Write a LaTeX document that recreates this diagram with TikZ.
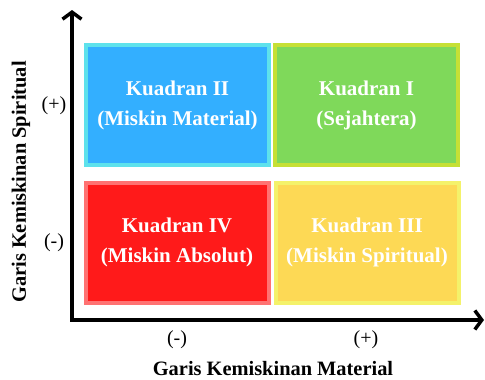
\documentclass[tikz,border=0pt]{standalone}
\usepackage{fontspec}
\setmainfont{Liberation Serif}
\usetikzlibrary{arrows.meta, calc}
\definecolor{kbiru}{HTML}{33AFFF}
\definecolor{kbirutepi}{HTML}{5EE2EC}
\definecolor{khijau}{HTML}{7FD95A}
\definecolor{khijautepi}{HTML}{C6E035}
\definecolor{kmerah}{HTML}{FF1A1A}
\definecolor{kmerahtepi}{HTML}{FF7272}
\definecolor{kkuning}{HTML}{FDD955}
\definecolor{kkuningtepi}{HTML}{F4F26A}
\tikzset{
	kuadran/.style = {draw, line width = 4pt, minimum width = 183pt, minimum height = 120pt,
		text = white, align = center, font = \fontsize{21}{30}\selectfont\bfseries},
	sumbu/.style = {line width = 3.5pt, -{Straight Barb[length = 7pt, width = 19pt]}},
	tanda/.style = {font = \fontsize{20}{22}\selectfont},
	judul/.style = {font = \fontsize{20.4}{22}\selectfont\bfseries}
}
\begin{document}
\begin{tikzpicture}[x = 1pt, y = -1pt]
		\useasboundingbox (0, 0) rectangle (485, 380);
		\coordinate (o) at (72, 320);
		\coordinate (yatas) at (72, 10);
		\coordinate (xkanan) at (484, 320);
		\draw[sumbu, line cap = round] (o) -- (yatas);
		\draw[sumbu] ($(o) + (-1.75, 0)$) -- (xkanan);
		\node[kuadran, draw = kbirutepi, fill = kbiru] (k2) at (177.5, 105) {Kuadran II\\(Miskin Material)};
		\node[kuadran, draw = khijautepi, fill = khijau] (k1) at (366.5, 105) {Kuadran I\\(Sejahtera)};
		\node[kuadran, draw = kmerahtepi, fill = kmerah] (k4) at (177, 242.5) {Kuadran IV\\(Miskin Absolut)};
		\node[kuadran, draw = kkuningtepi, fill = kkuning] (k3) at (367, 242.5) {Kuadran III\\(Miskin Spiritual)};
		\node[tanda] (yplus) at (54, 106) {(+)};
		\node[tanda] (ymin) at (54, 243) {(-)};
		\node[tanda] (xmin) at (177, 340) {(-)};
		\node[tanda] (xplus) at (366, 340) {(+)};
		\node[judul] (xjudul) at (273, 369) {Garis Kemiskinan Material};
		\node[judul, rotate = 90] (yjudul) at (21, 182) {Garis Kemiskinan Spiritual};
	\end{tikzpicture}
\end{document}
